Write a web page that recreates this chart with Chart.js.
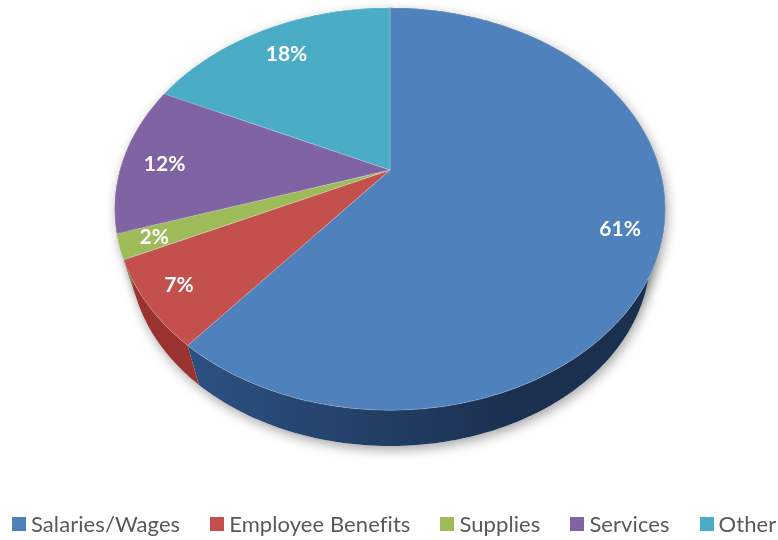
<!DOCTYPE HTML>
<html>

<head>
    <meta charset="utf-8">
    <script src="https://cdn.jsdelivr.net/npm/chart.js@4"></script>
    <style>
        html, body {
            margin: 0;
            background: #fff;
        }

        #wrap {
            position: relative;
            width: 778px;
            height: 540px;
            overflow: hidden;
        }

        #legend {
            position: absolute;
            left: 12px;
            top: 511px;
            display: flex;
            white-space: nowrap;
            font-family: Lato;
            font-size: 22px;
            line-height: 26px;
            letter-spacing: 0.08px;
            color: #595959;
        }

        #legend span.item {
            display: flex;
            align-items: center;
            margin-right: 30px;
        }

        #legend i {
            display: block;
            width: 14px;
            height: 14px;
            margin-right: 5px;
        }
    </style>
</head>

<body>
    <div id="wrap">
        <canvas id="myChart" width="778" height="540"></canvas>
        <div id="legend"></div>
    </div>
</body>
<script>
    var categories = ["Salaries/Wages", "Employee Benefits", "Supplies", "Services", "Other"];
    var shares = [61, 7, 2, 12, 18];
    var sliceColors = ["#4f81bd", "#c4504d", "#9dbb59", "#8063a3", "#4bacc6"];

    // side wall colours per slice, left to right
    var wallColors = [
        ["#2c5282", "#1b2f4f"],
        ["#9a332f", "#8a2c29"],
        ["#6f8a3c", "#6f8a3c"],
        ["#5b4578", "#5b4578"],
        ["#2f7f95", "#2f7f95"]
    ];

    // how far along the radius each percentage sits, and a small vertical nudge
    var labelReach = [0.855, 0.885, 0.88, 0.845, 0.81];
    var labelNudge = [0, -2, 0, 4, 1];

    // tilt of the disc: k is the perspective strength, the rest are relative to the radius
    var tilt = { k: -0.194, squash: 0.717, wallDrop: 49, wallScale: 0.945 };

    function project(arc, angle, reach, drop, scale) {
        var u = Math.cos(angle) * reach;
        var v = Math.sin(angle) * reach;
        var w = 1 + tilt.k * v;
        return {
            x: arc.x + scale * arc.outerRadius * u / w,
            y: arc.y + drop + scale * arc.outerRadius * tilt.squash * v / w
        };
    }

    function rimPoints(arc, drop, scale) {
        var pts = [];
        var steps = Math.max(4, Math.ceil((arc.endAngle - arc.startAngle) * 60));
        for (var i = 0; i <= steps; i++) {
            var a = arc.startAngle + (arc.endAngle - arc.startAngle) * i / steps;
            pts.push(project(arc, a, 1, drop, scale));
        }
        return pts;
    }

    function tracePoints(ctx, pts, first) {
        pts.forEach(function (p, i) {
            if (i == 0 && first) ctx.moveTo(p.x, p.y);
            else ctx.lineTo(p.x, p.y);
        });
    }

    // the library works out the angles, this plugin paints them as a tilted 3D disc
    var tiltedPie = {
        id: "tiltedPie",
        beforeDatasetDraw: function (chart, args) {
            var ctx = chart.ctx;
            var arcs = args.meta.data;
            var first = arcs[0];

            // soft shadow under the whole disc
            ctx.save();
            ctx.shadowColor = "rgba(0,0,0,0.35)";
            ctx.shadowBlur = 12;
            ctx.shadowOffsetX = 2;
            ctx.shadowOffsetY = 4;
            ctx.fillStyle = "#fff";
            arcs.forEach(function (arc) {
                ctx.beginPath();
                tracePoints(ctx, rimPoints(arc, tilt.wallDrop, tilt.wallScale), true);
                ctx.lineTo(arc.x, arc.y + tilt.wallDrop);
                ctx.fill();
                ctx.beginPath();
                tracePoints(ctx, rimPoints(arc, 0, 1), true);
                ctx.lineTo(arc.x, arc.y);
                ctx.fill();
            });
            ctx.restore();

            // side walls
            arcs.forEach(function (arc, i) {
                var grad = ctx.createLinearGradient(first.x - first.outerRadius * 0.75, 0, first.x + first.outerRadius * 0.5, 0);
                grad.addColorStop(0, wallColors[i][0]);
                grad.addColorStop(1, wallColors[i][1]);
                ctx.beginPath();
                tracePoints(ctx, rimPoints(arc, 0, 1), true);
                tracePoints(ctx, rimPoints(arc, tilt.wallDrop, tilt.wallScale).reverse(), false);
                ctx.closePath();
                ctx.fillStyle = grad;
                ctx.fill();
            });

            // top faces
            arcs.forEach(function (arc, i) {
                ctx.beginPath();
                ctx.moveTo(arc.x, arc.y);
                tracePoints(ctx, rimPoints(arc, 0, 1), false);
                ctx.closePath();
                ctx.fillStyle = sliceColors[i];
                ctx.fill();
                ctx.strokeStyle = "rgba(255,255,255,0.22)";
                ctx.lineWidth = 1;
                ctx.stroke();
            });
            return false;
        },
        // percentages go on last, the dataset draw above was taken over
        afterDatasetsDraw: function (chart) {
            var ctx = chart.ctx;
            ctx.save();
            ctx.font = "bold 21px Lato";
            ctx.fillStyle = "#fff";
            ctx.textAlign = "center";
            ctx.textBaseline = "middle";
            chart.getDatasetMeta(0).data.forEach(function (arc, i) {
                var mid = (arc.startAngle + arc.endAngle) / 2;
                var p = project(arc, mid, labelReach[i], 0, 1);
                ctx.fillText(shares[i] + "%", p.x, p.y + labelNudge[i]);
            });
            ctx.restore();
        }
    };

    var chart = new Chart("myChart", {
        type: "pie",
        data: {
            labels: categories,
            datasets: [{
                data: shares,
                backgroundColor: sliceColors,
                borderWidth: 0
            }]
        },
        options: {
            responsive: false,
            animation: false,
            events: [],
            radius: 270,
            layout: { padding: { left: 2, bottom: 200 } },
            plugins: {
                legend: { display: false },
                tooltip: { enabled: false }
            }
        },
        plugins: [tiltedPie]
    });

    // legend row under the chart
    var legend = document.getElementById("legend");
    categories.forEach(function (name, i) {
        var item = document.createElement("span");
        item.className = "item";
        var box = document.createElement("i");
        box.style.background = sliceColors[i];
        item.appendChild(box);
        item.appendChild(document.createTextNode(name));
        legend.appendChild(item);
    });
</script>

</html>
